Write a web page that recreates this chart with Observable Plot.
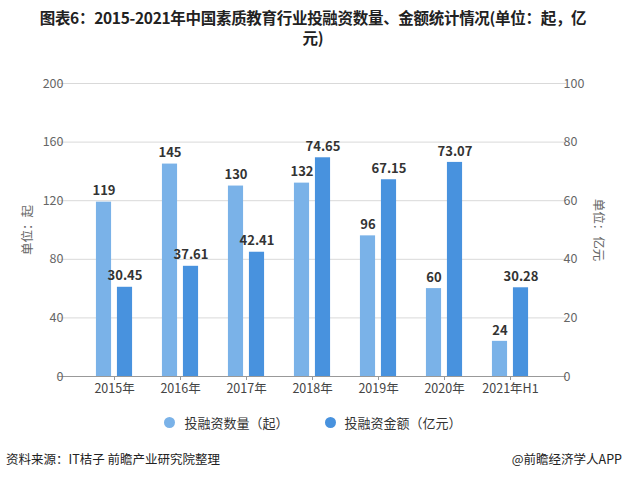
<!DOCTYPE html>
<html><head><meta charset="utf-8">
<script src="https://cdn.jsdelivr.net/npm/d3@7"></script>
<script src="https://cdn.jsdelivr.net/npm/@observablehq/plot@0.6"></script>
<style>
body{margin:0;background:#fff;font-family:"Noto Sans CJK SC","Noto Sans",sans-serif;}
#wrap{position:relative;width:626px;height:478px;overflow:hidden;}
#title{position:absolute;top:7px;left:0;width:626px;text-align:center;font-weight:bold;font-size:15.5px;line-height:20px;color:#222;letter-spacing:-0.3px;}
#chart{position:absolute;top:50px;left:0;}
#legend{position:absolute;top:413px;left:0;width:626px;display:flex;justify-content:center;gap:36px;font-size:13px;color:#333;}
#legend span.it{display:flex;align-items:center;gap:9px;}
#legend i{display:inline-block;width:11px;height:11px;border-radius:50%;}
#src{position:absolute;top:449px;left:6px;font-size:12.5px;color:#222;}
#app{position:absolute;top:449px;right:4px;font-size:12.5px;color:#222;}
</style></head>
<body><div id="wrap">
<div id="title">图表6：2015-2021年中国素质教育行业投融资数量、金额统计情况(单位：起，亿<br>元)</div>
<div id="chart"></div>
<div id="legend"></div>
<div id="src">资料来源：IT桔子 前瞻产业研究院整理</div>
<div id="app">@前瞻经济学人APP</div>
</div>
<script>
const years = ["2015年","2016年","2017年","2018年","2019年","2020年","2021年H1"];
const counts = [119,145,130,132,96,60,24];
const amounts = [30.45,37.61,42.41,74.65,67.15,73.07,30.28];
const leftTicks = [0,40,80,120,160,200];
const rightTicks = [0,20,40,60,80,100];
const seriesNames = ["投融资数量（起）","投融资金额（亿元）"];
const colors = ["#7ab2e8","#4892de"];

const countData = years.map((y,i)=>({year:y, v:counts[i], label:String(counts[i])}));
const amountData = years.map((y,i)=>({year:y, v:amounts[i]*2, label:amounts[i].toFixed(2)}));

const W = 626, H = 350;
const mL = 68, mR = 70, inset = 10;
const bw = (W - mL - mR - 2*inset) / years.length;
const barW = 16, gap = 5;
const inA = {insetLeft: bw/2 - gap/2 - barW, insetRight: bw/2 + gap/2};
const inB = {insetLeft: bw/2 + gap/2, insetRight: bw/2 - gap/2 - barW};
const offA = -(gap/2 + barW/2), offB = gap/2 + barW/2;

const chart = Plot.plot({
  width: W, height: H,
  marginLeft: mL, marginRight: mR, marginTop: 33, marginBottom: 24,
  style: {fontFamily: '"Noto Sans CJK SC","Noto Sans",sans-serif', fontSize: "12px", color: "#555"},
  x: {domain: years, type: "band", padding: 0, insetLeft: inset, insetRight: inset},
  y: {domain: [0,200], range: [326, 33]},
  marks: [
    Plot.gridY(leftTicks.slice(1), {stroke: "#d9d9d9", strokeOpacity: 1, strokeWidth: 1, insetLeft: -inset, insetRight: -inset}),
    Plot.barY(countData, {x: "year", y: "v", fill: colors[0], ...inA}),
    Plot.barY(amountData, {x: "year", y: "v", fill: colors[1], ...inB}),
    Plot.ruleY([0], {stroke: "#999", insetLeft: -inset, insetRight: -inset}),
    Plot.text(countData, {x: "year", y: "v", text: "label", dx: offA, dy: -11, fontWeight: "bold", fontSize: 13, fill: "#333"}),
    Plot.text(amountData, {x: "year", y: "v", text: "label", dx: offB, dy: -11, fontWeight: "bold", fontSize: 13, fill: "#333"}),
    Plot.axisX({tickSize: 4, tickPadding: 4, stroke: "#999", color: "#444", fontSize: 12.5, label: null}),
    Plot.axisY(leftTicks, {anchor: "left", tickSize: 0, tickPadding: 5, color: "#666", fontSize: 12.5, label: null}),
    Plot.axisY(leftTicks, {anchor: "right", tickSize: 0, tickPadding: 7, color: "#666", fontSize: 12.5, tickFormat: (d) => String(rightTicks[leftTicks.indexOf(d)]), label: null})
  ]
});
document.getElementById("chart").appendChild(chart);

const ns = "http://www.w3.org/2000/svg";
function addLabel(text, x, y, rot){
  const t = document.createElementNS(ns, "text");
  t.setAttribute("transform", `translate(${x},${y}) rotate(${rot})`);
  t.setAttribute("text-anchor", "middle");
  t.setAttribute("dominant-baseline", "middle");
  t.setAttribute("fill", "#666");
  t.setAttribute("font-size", "12.5");
  t.textContent = text;
  chart.appendChild(t);
}
addLabel("单位：起", 29, 180, -90);
addLabel("单位：亿元", 597, 180, 90);

const leg = document.getElementById("legend");
seriesNames.forEach((n,i)=>{
  const s = document.createElement("span"); s.className = "it";
  s.innerHTML = `<i style="background:${colors[i]}"></i>${n}`;
  leg.appendChild(s);
});
</script>
</body></html>
